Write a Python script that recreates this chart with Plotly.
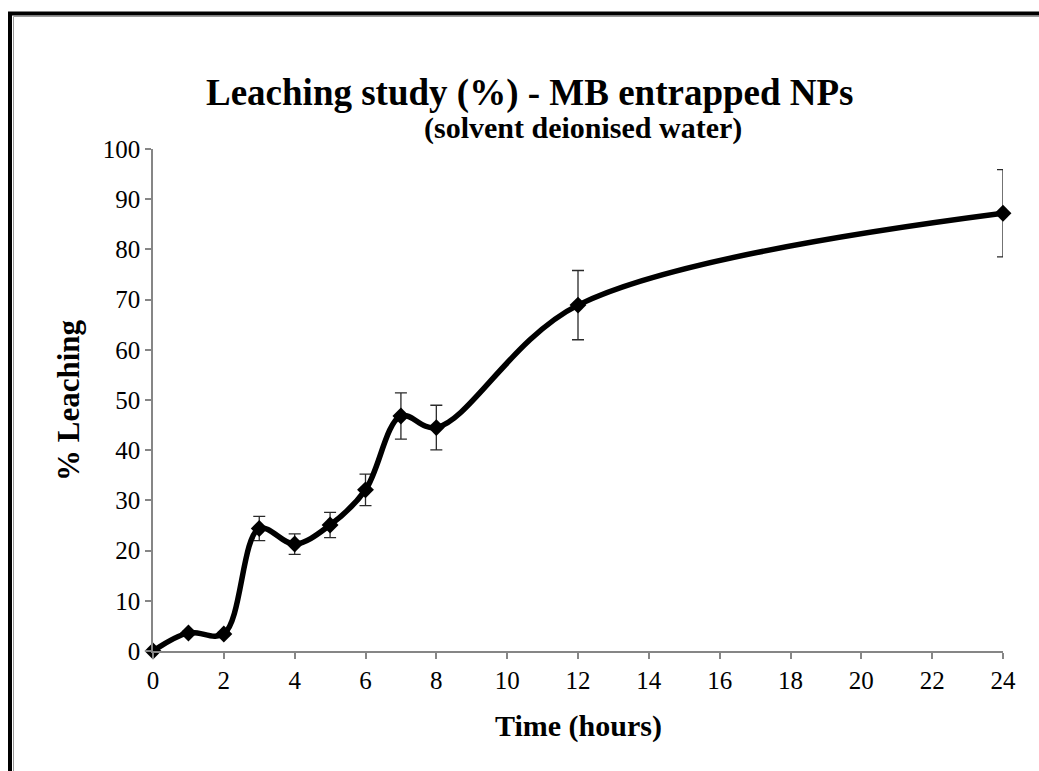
import plotly.graph_objects as go

# Leaching of MB from entrapped nanoparticles in deionised water
time_h = [0, 1, 2, 3, 4, 5, 6, 7, 8, 12, 24]
leaching_pct = [0.0, 3.6, 3.4, 24.4, 21.3, 25.1, 32.1, 46.8, 44.5, 68.9, 87.2]
leaching_err = [0.0, 0.35, 0.35, 2.4, 2.05, 2.5, 3.15, 4.6, 4.45, 6.9, 8.7]

x_ticks = list(range(0, 25, 2))
y_ticks = list(range(0, 101, 10))

W, H = 1039, 771
L, R, T, B = 153, 36, 149, 120
pw, ph = W - L - R, H - T - B

def px_x(px):
    return (px - L) / pw

def px_y(py):
    return (H - B - py) / ph

FONT = "Liberation Serif"
AXIS_GREY = "#868686"

fig = go.Figure()
fig.add_trace(go.Scatter(
    x=time_h,
    y=leaching_pct,
    mode="lines+markers",
    line=dict(color="black", width=5.5, shape="spline", smoothing=1.0),
    marker=dict(symbol="diamond", size=13, color="black"),
    error_y=dict(type="data", array=leaching_err, visible=True,
                 color="#2a2a2a", thickness=1.3, width=6),
    cliponaxis=False,
    showlegend=False,
))

fig.update_xaxes(
    range=[0, 24], tickvals=x_ticks, ticktext=[str(v) for v in x_ticks],
    showgrid=False, zeroline=False, showline=True, linecolor=AXIS_GREY, linewidth=1.5,
    ticks="outside", ticklen=6, tickcolor=AXIS_GREY, tickwidth=1.5,
    tickfont=dict(family=FONT, size=25, color="black"),
)
fig.update_yaxes(
    range=[0, 100], tickvals=y_ticks, ticktext=[str(v) for v in y_ticks],
    showgrid=False, zeroline=False, showline=True, linecolor=AXIS_GREY, linewidth=1.5,
    ticks="outside", ticklen=6, tickcolor=AXIS_GREY, tickwidth=1.5,
    tickfont=dict(family=FONT, size=25, color="black"),
)

annotations = [
    dict(text="<b>Leaching study (%) - MB entrapped NPs</b>", x=px_x(530), y=px_y(93),
         font=dict(family=FONT, size=37, color="black")),
    dict(text="<b>(solvent deionised water)</b>", x=px_x(583), y=px_y(128),
         font=dict(family=FONT, size=30, color="black")),
    dict(text="<b>Time (hours)</b>", x=px_x(578), y=px_y(726),
         font=dict(family=FONT, size=30, color="black")),
    dict(text="<b>% Leaching</b>", x=px_x(68), y=px_y(400), textangle=-90,
         font=dict(family=FONT, size=31, color="black")),
]
for a in annotations:
    a.update(xref="paper", yref="paper", showarrow=False, xanchor="center", yanchor="middle")

# outer frame: heavy black top/left edge with a thin grey inner edge
shapes = [
    dict(type="line", x0=px_x(8), x1=px_x(W + 5), y0=px_y(13.5), y1=px_y(13.5),
         line=dict(color="black", width=4)),
    dict(type="line", x0=px_x(10), x1=px_x(10), y0=px_y(12), y1=px_y(H + 5),
         line=dict(color="black", width=4)),
    dict(type="line", x0=px_x(13.5), x1=px_x(W + 5), y0=px_y(16.5), y1=px_y(16.5),
         line=dict(color="#9a9a9a", width=1)),
    dict(type="line", x0=px_x(13.5), x1=px_x(13.5), y0=px_y(16.5), y1=px_y(H + 5),
         line=dict(color="#9a9a9a", width=1)),
]
for s in shapes:
    s.update(xref="paper", yref="paper")

fig.update_layout(
    width=W, height=H,
    margin=dict(l=L, r=R, t=T, b=B, autoexpand=False),
    paper_bgcolor="white", plot_bgcolor="white",
    annotations=annotations, shapes=shapes,
    font=dict(family=FONT, color="black"),
)

fig.write_html("out.html")
